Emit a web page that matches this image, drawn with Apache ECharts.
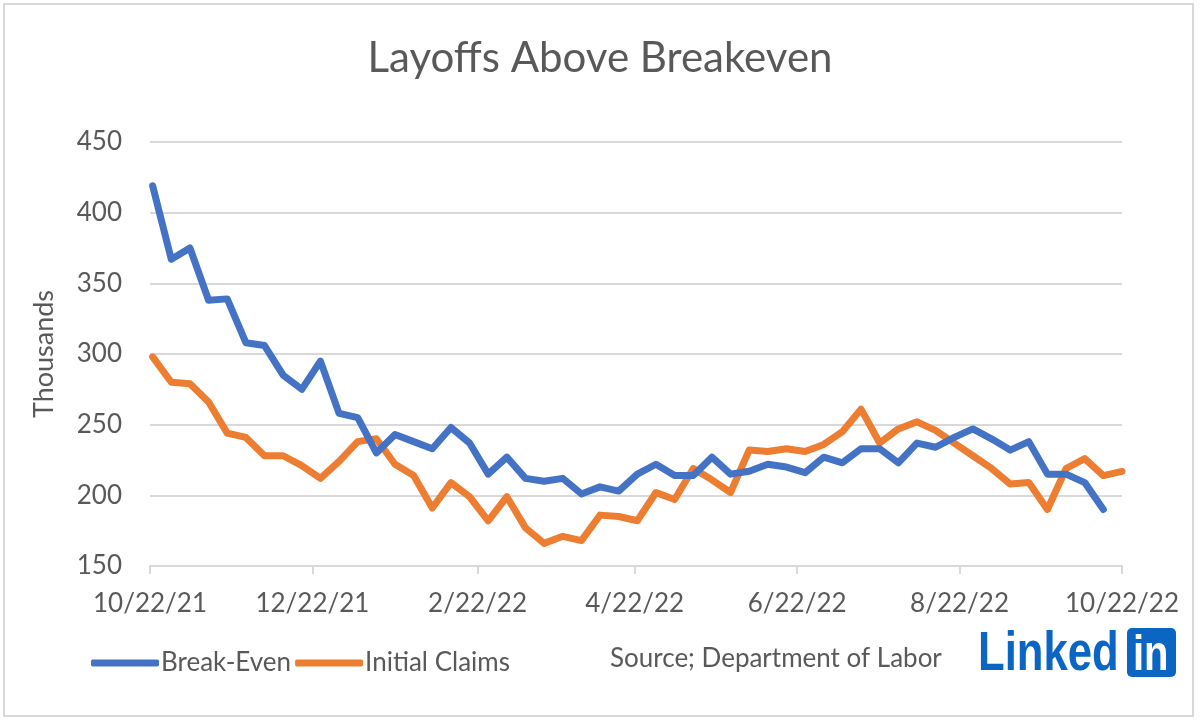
<!DOCTYPE html>
<html>
<head>
<meta charset="utf-8">
<script src="https://cdn.jsdelivr.net/npm/echarts@6/dist/echarts.min.js"></script>
<style>
html,body{margin:0;padding:0;background:#fff;}
#chart{width:1200px;height:724px;}
</style>
</head>
<body>
<div id="chart"></div>
<script>
// Weekly dates (week ending)
const weeks = [
 '2021-10-23','2021-10-30','2021-11-06','2021-11-13','2021-11-20','2021-11-27',
 '2021-12-04','2021-12-11','2021-12-18','2021-12-25','2022-01-01','2022-01-08',
 '2022-01-15','2022-01-22','2022-01-29','2022-02-05','2022-02-12','2022-02-19',
 '2022-02-26','2022-03-05','2022-03-12','2022-03-19','2022-03-26','2022-04-02',
 '2022-04-09','2022-04-16','2022-04-23','2022-04-30','2022-05-07','2022-05-14',
 '2022-05-21','2022-05-28','2022-06-04','2022-06-11','2022-06-18','2022-06-25',
 '2022-07-02','2022-07-09','2022-07-16','2022-07-23','2022-07-30','2022-08-06',
 '2022-08-13','2022-08-20','2022-08-27','2022-09-03','2022-09-10','2022-09-17',
 '2022-09-24','2022-10-01','2022-10-08','2022-10-15','2022-10-22'
];
// Break-Even (thousands)
const breakEven = [
 419,367,375,338,339,308,306,285,275,295,258,255,
 230,243,238,233,248,237,215,227,212,210,212,201,
 206,203,215,222,214,214,227,215,217,222,220,216,
 227,223,233,233,223,237,234,241,247,240,232,238,
 215,215,209,190
];
// Initial Claims (thousands)
const initialClaims = [
 298,280,279,266,244,241,228,228,221,212,224,238,
 240,222,214,191,209,199,182,199,177,166,171,168,
 186,185,182,202,197,219,211,202,232,231,233,231,
 236,245,261,237,247,252,246,237,228,219,208,209,
 190,219,226,214,217
];
// Axis ticks
const xTickDates = ['2021-10-22','2021-12-22','2022-02-22','2022-04-22','2022-06-22','2022-08-22','2022-10-22'];
const yMin = 150, yMax = 450, yStep = 50;

const DAY = 86400000;
function utc(s){ const p = s.split('-').map(Number); return Date.UTC(p[0], p[1]-1, p[2]); }
const origin = utc(xTickDates[0]);
function dayOf(s){ return Math.round((utc(s) - origin) / DAY); }
function fmt(v){ const d = new Date(origin + Math.round(v) * DAY); return (d.getUTCMonth()+1) + '/' + d.getUTCDate() + '/' + String(d.getUTCFullYear()).slice(2); }

const FONT = 'Lato, "Open Sans", sans-serif';
const GRAY = '#595959';
const BLUE = '#4472C4', ORANGE = '#ED7D31';

const chart = echarts.init(document.getElementById('chart'));
const tickVals = xTickDates.map(dayOf);

chart.setOption({
  backgroundColor: '#ffffff',
  animation: false,
  title: {
    text: 'Layoffs Above Breakeven',
    left: 'center',
    top: 32,
    textStyle: { fontFamily: FONT, fontSize: 42, fontWeight: 'normal', color: GRAY }
  },
  grid: { left: 150, right: 78, top: 142, bottom: 158, containLabel: false },
  legend: {
    left: 86,
    top: 645,
    itemWidth: 68,
    itemHeight: 7,
    itemGap: 4,
    icon: 'roundRect',
    textStyle: { fontFamily: FONT, fontSize: 26, color: GRAY, padding: [0, 0, 0, -3] },
    data: ['Break-Even', 'Initial Claims']
  },
  xAxis: {
    type: 'value',
    min: tickVals[0],
    max: tickVals[tickVals.length - 1],
    axisLine: { show: true, lineStyle: { color: '#d9d9d9', width: 2 } },
    axisTick: { show: true, customValues: tickVals, length: 8, lineStyle: { color: '#d9d9d9', width: 2 } },
    axisLabel: {
      customValues: tickVals,
      formatter: fmt,
      fontFamily: FONT, fontSize: 26, color: GRAY, margin: 25,
      showMinLabel: true, showMaxLabel: true, hideOverlap: false
    },
    splitLine: { show: false }
  },
  yAxis: {
    type: 'value',
    min: yMin, max: yMax, interval: yStep,
    name: 'Thousands',
    nameLocation: 'middle',
    nameGap: 92,
    nameRotate: 90,
    nameTextStyle: { fontFamily: FONT, fontSize: 27, color: GRAY },
    axisLine: { show: false },
    axisTick: { show: false },
    axisLabel: { fontFamily: FONT, fontSize: 26, color: GRAY, margin: 28 },
    splitLine: { lineStyle: { color: '#d9d9d9', width: 2 } }
  },
  series: [
    {
      name: 'Break-Even', type: 'line', showSymbol: false, symbol: 'none',
      data: breakEven.map((v, i) => [dayOf(weeks[i]), v]),
      itemStyle: { color: BLUE },
      lineStyle: { color: BLUE, width: 7, cap: 'round', join: 'round' },
      z: 3
    },
    {
      name: 'Initial Claims', type: 'line', showSymbol: false, symbol: 'none',
      data: initialClaims.map((v, i) => [dayOf(weeks[i]), v]),
      itemStyle: { color: ORANGE },
      lineStyle: { color: ORANGE, width: 7, cap: 'round', join: 'round' },
      z: 2
    }
  ],
  graphic: [
    {
      type: 'rect', silent: true, z: -1,
      shape: { x: 4, y: 4, width: 1189, height: 712 },
      style: { fill: 'none', stroke: '#d9d9d9', lineWidth: 2 }
    },
    {
      type: 'text', left: 610, top: 646,
      style: { text: 'Source; Department of Labor', font: '26px ' + FONT, fill: GRAY }
    },
    {
      type: 'text', x: 978, y: 683, scaleX: 0.78,
      style: { text: 'Linked', font: 'bold 56px "Liberation Sans", Arial, sans-serif', fill: '#0A66C2', verticalAlign: 'bottom' }
    },
    {
      type: 'rect', shape: { x: 1127, y: 628, width: 49, height: 49, r: 5 },
      style: { fill: '#0A66C2' }
    },
    {
      type: 'text', x: 1133, y: 681, scaleX: 0.8,
      style: { text: 'in', font: 'bold 50px "Liberation Sans", Arial, sans-serif', fill: '#ffffff', verticalAlign: 'bottom' }
    }
  ]
});
</script>
</body>
</html>
